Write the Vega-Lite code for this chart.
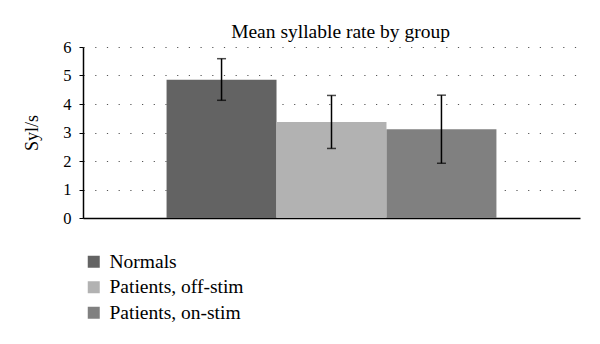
{
  "$schema": "https://vega.github.io/schema/vega-lite/v6.json",
  "autosize": {"type": "none"},
  "width": 497,
  "height": 171,
  "padding": {"left": 83, "top": 47, "right": 20, "bottom": 126},
  "background": "white",
  "config": {
    "font": "Liberation Serif",
    "view": {"stroke": null}
  },
  "title": {
    "text": "Mean syllable rate by group",
    "font": "Liberation Serif",
    "fontSize": 19.5,
    "fontWeight": "normal",
    "color": "black",
    "anchor": "middle",
    "offset": -3,
    "dx": 9
  },
  "data": {
    "values": [
      {"group": "Normals", "mean": 4.85, "lo": 4.13, "hi": 5.59},
      {"group": "Patients, off-stim", "mean": 3.37, "lo": 2.44, "hi": 4.30},
      {"group": "Patients, on-stim", "mean": 3.11, "lo": 1.92, "hi": 4.31}
    ]
  },
  "resolve": {"axis": {"y": "independent"}},
  "encoding": {
    "x": {
      "field": "group",
      "type": "nominal",
      "sort": null,
      "scale": {"paddingInner": 0, "paddingOuter": 0.76},
      "axis": {
        "title": null,
        "labels": false,
        "ticks": false,
        "domainColor": "black",
        "domainWidth": 1.5
      }
    }
  },
  "layer": [
    {
      "mark": {"type": "bar", "width": {"band": 1}},
      "encoding": {
        "y": {
          "field": "mean",
          "type": "quantitative",
          "scale": {"domain": [0, 6]},
          "axis": {
            "title": "Syl/s",
            "titleFont": "Liberation Serif",
            "titleFontSize": 18,
            "titleFontWeight": "normal",
            "titleColor": "black",
            "titlePadding": 21,
            "values": [0, 1, 2, 3, 4, 5, 6],
            "labelOverlap": false,
            "labelFont": "Liberation Serif",
            "labelFontSize": 16.5,
            "labelColor": "black",
            "labelPadding": 8,
            "tickSize": 4,
            "tickColor": "black",
            "domainColor": "black",
            "domainWidth": 1.5,
            "grid": true,
            "gridColor": "#555555",
            "gridDash": [1.2, 10.5],
            "gridWidth": 1.2
          }
        },
        "color": {
          "field": "group",
          "type": "nominal",
          "sort": null,
          "scale": {
            "domain": ["Normals", "Patients, off-stim", "Patients, on-stim"],
            "range": ["#636363", "#b2b2b2", "#808080"]
          },
          "legend": {
            "title": null,
            "orient": "none",
            "legendX": 1,
            "legendY": 205,
            "symbolType": "square",
            "symbolSize": 144,
            "symbolStrokeWidth": 0,
            "labelFont": "Liberation Serif",
            "labelFontSize": 19.5,
            "labelColor": "black",
            "labelOffset": 6,
            "rowPadding": 4.5,
            "padding": 0
          }
        }
      }
    },
    {
      "mark": {"type": "rule", "color": "black", "strokeWidth": 1.5},
      "encoding": {
        "y": {"field": "lo", "type": "quantitative", "axis": null},
        "y2": {"field": "hi"}
      }
    },
    {
      "mark": {"type": "tick", "color": "black", "size": 9, "thickness": 1.5},
      "encoding": {"y": {"field": "lo", "type": "quantitative", "axis": null}}
    },
    {
      "mark": {"type": "tick", "color": "black", "size": 9, "thickness": 1.5},
      "encoding": {"y": {"field": "hi", "type": "quantitative", "axis": null}}
    }
  ]
}
